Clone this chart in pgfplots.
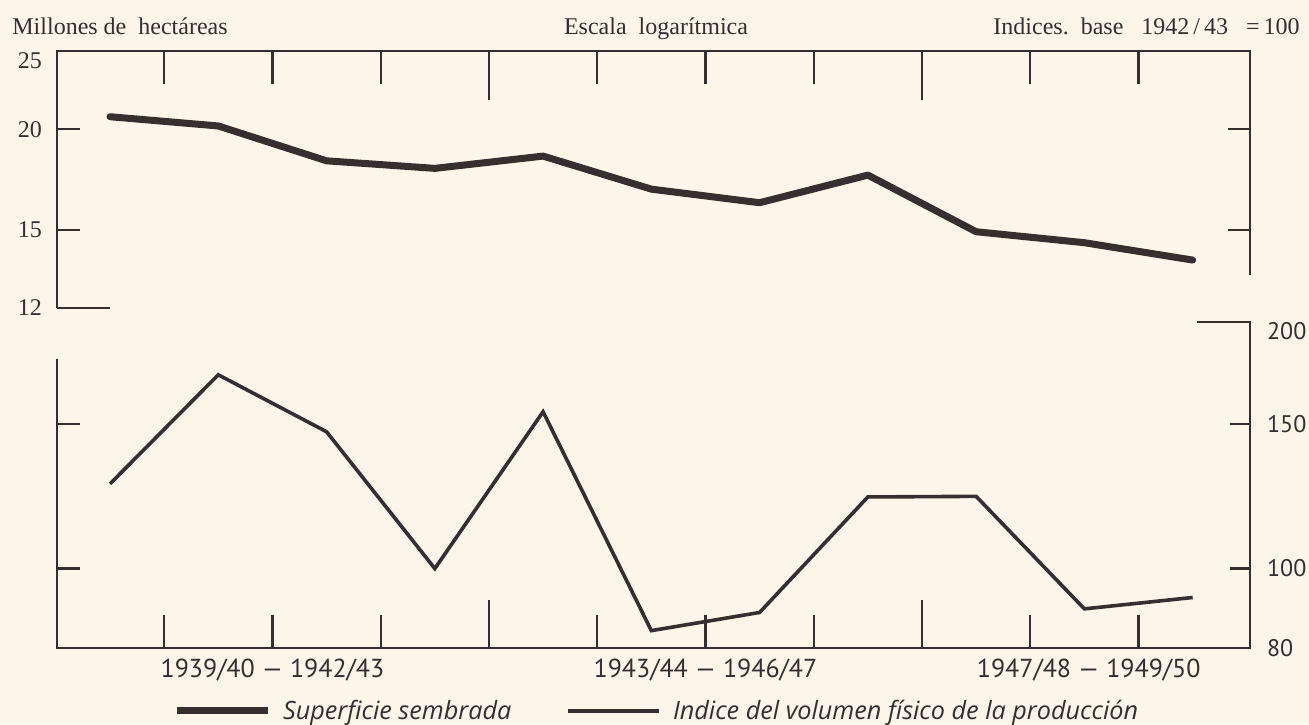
\documentclass[border=0pt]{standalone}
\usepackage{fontspec}
\setmainfont{Liberation Serif}
\newfontfamily\numfont{PT Sans}
\newfontfamily\legfont{Open Sans}
\usepackage{pgfplots}
\pgfplotsset{compat=1.18}
\definecolor{ink}{RGB}{55,47,45}
\definecolor{paper}{RGB}{252,245,234}

\begin{document}
\begin{tikzpicture}[x=1pt,y=1pt]
\fill[paper] (0,0) rectangle (654.5,362);
\path[use as bounding box] (0,0) rectangle (654.5,362);

\node[anchor=base west, inner sep=0, text=ink, font=\fontsize{12}{14}\selectfont] at (6,344.5) {Millones de\ \ hectáreas};
\node[anchor=base, inner sep=0, text=ink, font=\fontsize{12}{14}\selectfont] at (328,344.5) {Escala\ \ logarítmica};
\node[anchor=base east, inner sep=0, text=ink, font=\fontsize{12}{14}\selectfont] at (650,344.5) {Indices.\ \ base\ \ \ 1942\,/\,43\ \ \ =\,100};

% ---------- upper panel: area sown (millions of hectares), log scale
\begin{axis}[
  at={(28.5pt,208pt)}, anchor=south west,
  scale only axis, width=596.5pt, height=128.5pt,
  xmin=-0.49, xmax=10.53,
  ymode=log, ymin=12, ymax=25,
  axis line style={draw=none},
  major tick length=0pt, minor tick length=0pt,
  xtick=\empty,
  ytick={12,15,20}, yticklabels={12,15,20},
  extra y ticks={25}, extra y tick labels={25},
  extra y tick style={yticklabel style={yshift=-5pt}},
  yticklabel style={font=\fontsize{12}{14}\selectfont, text=ink, anchor=east, xshift=-4pt},
  clip=false,
]
\addplot[ink, line width=3.5pt, line join=round, line cap=round] coordinates {
 (0,20.72)(1,20.18)(2,18.27)(3,17.88)(4,18.52)(5,16.85)(6,16.21)(7,17.54)(8,14.92)(9,14.46)(10,13.76)};
\draw[ink, line width=1.3pt] (rel axis cs:0,0) -- (rel axis cs:0,1) -- (rel axis cs:1,1) -- (rel axis cs:1,0.128);
\draw[ink, line width=1.1pt] (rel axis cs:0,0) -- ++(26.5pt,0pt);
\draw[ink, line width=1.1pt] (axis cs:-0.49,20) -- ++(11.5pt,0pt);
\draw[ink, line width=1.1pt] (axis cs:-0.49,15) -- ++(11.5pt,0pt);
\draw[ink, line width=1.1pt] (axis cs:10.53,20) -- ++(-11pt,0pt);
\draw[ink, line width=1.1pt] (axis cs:10.53,15) -- ++(-11pt,0pt);
\pgfplotsinvokeforeach{0.5,1.5,2.5,4.5,5.5,6.5,8.5,9.5}{
  \draw[ink, line width=1.1pt] (axis cs:#1,25) -- ++(0pt,-16.5pt);}
\pgfplotsinvokeforeach{3.5,7.5}{
  \draw[ink, line width=1.1pt] (axis cs:#1,25) -- ++(0pt,-24.5pt);}
\end{axis}

% ---------- lower panel: index of physical volume of production, log scale
\begin{axis}[
  at={(28.5pt,38pt)}, anchor=south west,
  scale only axis, width=596.5pt, height=163pt,
  xmin=-0.49, xmax=10.53,
  ymode=log, ymin=80, ymax=200,
  axis line style={draw=none},
  major tick length=0pt, minor tick length=0pt,
  xtick={1.5,5.5,9.04},
  xticklabels={1939/40\ —\ 1942/43, 1943/44\ —\ 1946/47, 1947/48\ —\ 1949/50},
  xticklabel style={font=\numfont\fontsize{13}{15}\selectfont, text=ink, yshift=-2pt},
  ytick={80,100,150}, yticklabels={80,100,150},
  extra y ticks={200}, extra y tick labels={200},
  extra y tick style={yticklabel style={yshift=-4.5pt}},
  yticklabel pos=right,
  yticklabel style={font=\numfont\fontsize{12}{14}\selectfont, text=ink, anchor=west, xshift=5pt},
  clip=false,
  legend columns=2,
  legend image code/.code={\draw[#1] (0pt,0pt) -- (45.5pt,0pt);},
  legend style={draw=none, fill=none, inner sep=0pt, anchor=west, at={(0.097,-0.193)},
    font=\legfont\itshape\fontsize{12.6}{14}\selectfont, text=ink,
    /tikz/every odd column/.append style={column sep=4pt},
    /tikz/every even column/.append style={column sep=25.5pt}},
]
\addlegendimage{ink, line width=3.5pt}
\addlegendentry{Superficie sembrada}
\addplot[ink, line width=1.8pt, line join=miter] coordinates {
 (0,126.9)(1,172.4)(2,146.9)(3,100)(4,155.4)(5,84.0)(6,88.4)(7,122.3)(8,122.5)(9,89.3)(10,92.2)};
\addlegendentry{Indice del volumen físico de la producción}
\draw[ink, line width=1.3pt] (rel axis cs:0,0.886) -- (rel axis cs:0,0) -- (rel axis cs:1,0) -- (rel axis cs:1,1) -- ++(-26.5pt,0pt);
\draw[ink, line width=1.1pt] (axis cs:-0.49,150) -- ++(11.5pt,0pt);
\draw[ink, line width=1.1pt] (axis cs:-0.49,100) -- ++(11.5pt,0pt);
\draw[ink, line width=1.1pt] (axis cs:10.53,150) -- ++(-10pt,0pt);
\draw[ink, line width=1.1pt] (axis cs:10.53,100) -- ++(-10pt,0pt);
\pgfplotsinvokeforeach{0.5,1.5,2.5,4.5,5.5,6.5,8.5,9.5}{
  \draw[ink, line width=1.1pt] (axis cs:#1,80) -- ++(0pt,16.5pt);}
\pgfplotsinvokeforeach{3.5,7.5}{
  \draw[ink, line width=1.1pt] (axis cs:#1,80) -- ++(0pt,24pt);}
\end{axis}
\end{tikzpicture}
\end{document}
